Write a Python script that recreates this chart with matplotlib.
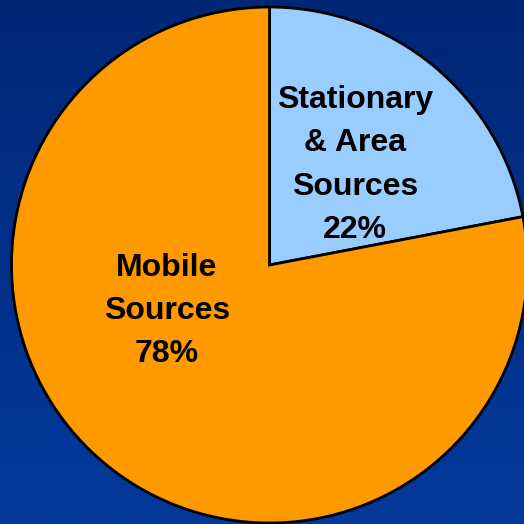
import numpy as np
import matplotlib
matplotlib.use("Agg")
import matplotlib.pyplot as plt
from matplotlib.colors import LinearSegmentedColormap

# Emission source shares
categories = ["Stationary\n& Area\nSources", "Mobile\nSources"]
shares = [22, 78]
slice_colors = ["#99CCFF", "#FF9900"]

W = H = 524
fig = plt.figure(figsize=(W / 100, H / 100), dpi=100)

# Blue gradient backdrop
bg = fig.add_axes([0, 0, 1, 1])
bg.set_axis_off()
cmap = LinearSegmentedColormap.from_list("bg", ["#002776", "#04399C"])
grad = np.linspace(0, 1, 256).reshape(-1, 1)
bg.imshow(grad, aspect="auto", cmap=cmap, extent=[0, 1, 0, 1], origin="upper")
bg.set_xlim(0, 1)
bg.set_ylim(0, 1)

ax = fig.add_axes([0, 0, 1, 1])
ax.set_axis_off()
ax.patch.set_alpha(0)

cx, cy, r = 269.5, H - 265, 258
wedges, _ = ax.pie(
    shares,
    colors=slice_colors,
    startangle=90,
    counterclock=False,
    radius=r,
    center=(cx, cy),
    wedgeprops=dict(edgecolor="black", linewidth=2),
    frame=False,
)
ax.set_xlim(0, W)
ax.set_ylim(0, H)
ax.set_aspect("equal")

font = dict(family=["Liberation Sans", "DejaVu Sans"], fontweight="bold",
            fontsize=23, color="black", ha="center", va="center",
            linespacing=1.57)
label_pos = [(355, H - 165), (167, H - 311)]
for (x, y), name, val in zip(label_pos, categories, shares):
    ax.text(x, y, f"{name}\n{val}%", **font)

fig.savefig("out.png", dpi=100)
